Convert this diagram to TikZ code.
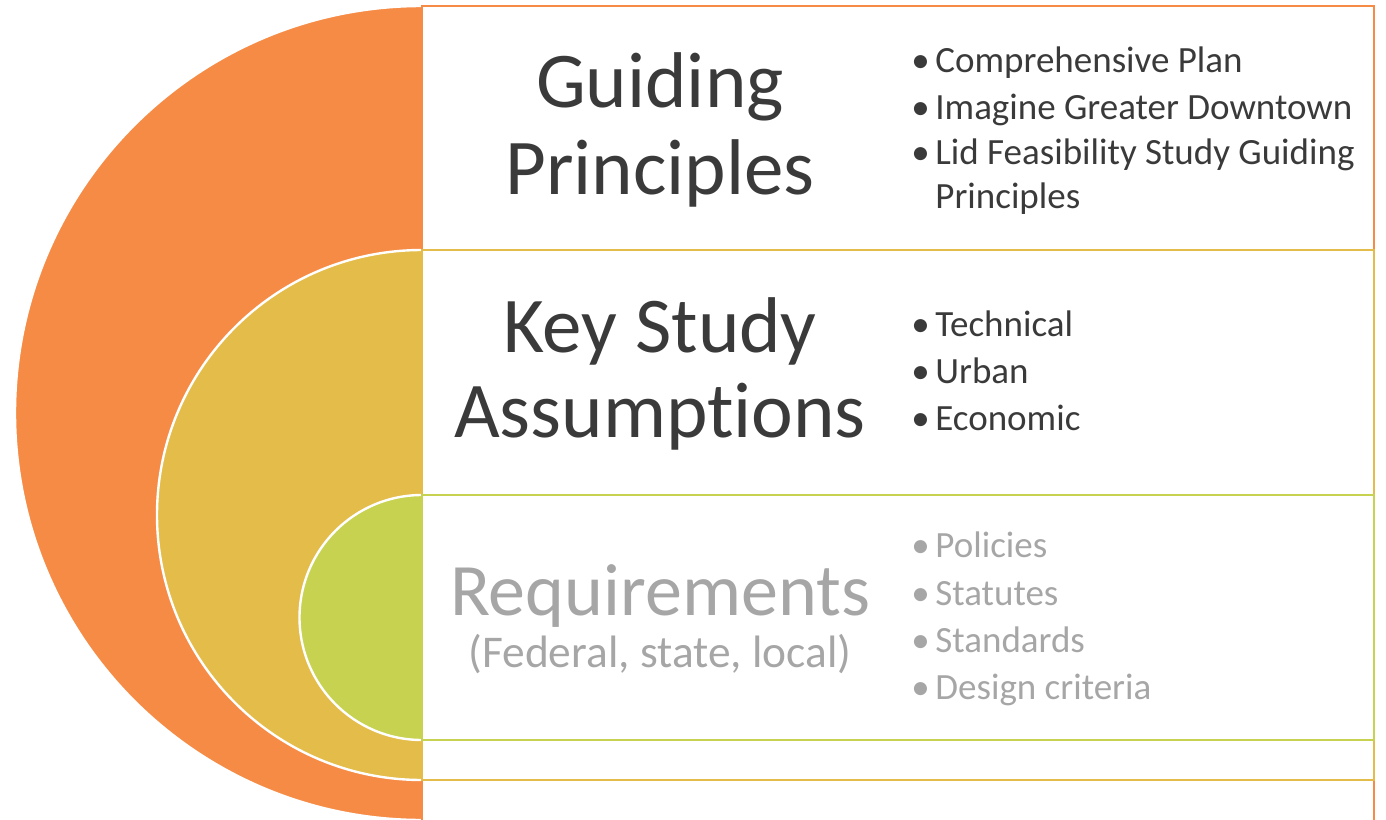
\documentclass[tikz,border=0pt]{standalone}
\usepackage{fontspec}
\setmainfont{Carlito}[Ligatures=NoCommon]

\definecolor{gpOrange}{RGB}{246,139,69}
\definecolor{ksYellow}{RGB}{228,188,74}
\definecolor{rqGreen}{RGB}{198,210,80}
\definecolor{darkText}{RGB}{58,58,58}
\definecolor{greyText}{RGB}{166,166,166}

\newcommand\bul{\makebox[12pt][l]{•}}

\tikzset{
  title/.style={anchor=base, inner sep=0pt, font=\fontsize{39.5}{46}\selectfont},
  subtitle/.style={anchor=base, inner sep=0pt, font=\fontsize{22.7}{26}\selectfont},
  item/.style={anchor=base west, inner sep=0pt, font=\fontsize{18.5}{22}\selectfont},
  half/.style={draw=white, line width=1.2pt},
  band/.style={line width=1.4pt},
}

\begin{document}
\begin{tikzpicture}[x=0.5pt, y=-0.5pt]
\useasboundingbox (0,0) rectangle (1386,819);
\clip (0,0) rectangle (1386,819);

% nested half discs
\begin{scope}
\clip (0,0) rectangle (422,819);
\filldraw[half, fill=gpOrange] (422,413) circle[radius=407];
\filldraw[half, fill=ksYellow] (422,515) circle[radius=265];
\filldraw[half, fill=rqGreen] (422,617.5) circle[radius=122.5];
\end{scope}

% bands
\draw[band, draw=gpOrange] (422,6) rectangle (1374,840);
\draw[band, draw=ksYellow] (422,250) rectangle (1374,780);
\draw[band, draw=rqGreen] (422,495) rectangle (1374,740);

% guiding principles
\node[title, text=darkText] (gp1) at (660,107) {Guiding};
\node[title, text=darkText] (gp2) at (660,194) {Principles};
\node[item, text=darkText] (gpa) at (911,72) {\bul Comprehensive Plan};
\node[item, text=darkText] (gpb) at (911,119) {\bul Imagine Greater Downtown};
\node[item, text=darkText] (gpc) at (911,164) {\bul Lid Feasibility Study Guiding};
\node[item, text=darkText] (gpd) at (935,208) {Principles};

% key study assumptions
\node[title, text=darkText] (ks1) at (660,352) {Key Study};
\node[title, text=darkText] (ks2) at (660,437) {Assumptions};
\node[item, text=darkText] (ksa) at (911,336) {\bul Technical};
\node[item, text=darkText] (ksb) at (911,383) {\bul Urban};
\node[item, text=darkText] (ksc) at (911,430) {\bul Economic};

% requirements
\node[title, text=greyText, font=\fontsize{37}{44}\selectfont] (rq1) at (660,615) {Requirements};
\node[subtitle, text=greyText] (rq2) at (660,667) {(Federal, state, local)};
\node[item, text=greyText] (rqa) at (911,557) {\bul Policies};
\node[item, text=greyText] (rqb) at (911,605) {\bul Statutes};
\node[item, text=greyText] (rqc) at (911,652) {\bul Standards};
\node[item, text=greyText] (rqd) at (911,699) {\bul Design criteria};
\end{tikzpicture}
\end{document}
